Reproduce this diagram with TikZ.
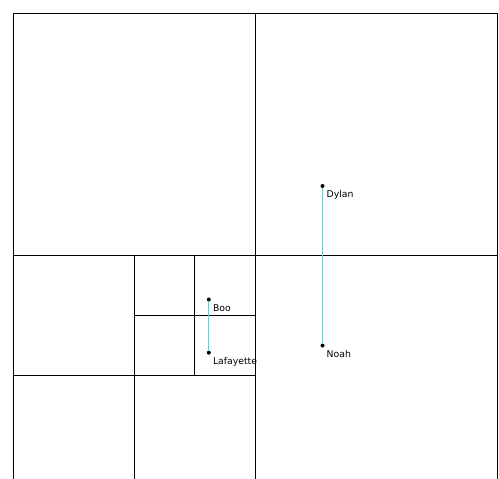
\documentclass[tikz,border=0pt]{standalone}
\usepackage{fontspec}
\setsansfont{DejaVu Sans}
\definecolor{linkcyan}{RGB}{60, 225, 225}
\usetikzlibrary{positioning}

\tikzset{
  cell/.style={draw=black, line width=1pt},
  pt/.style={circle, fill=black, inner sep=0pt, outer sep=0pt, minimum size=4pt},
  lbl/.style={font=\sffamily\fontsize{9.3}{10}\selectfont, inner sep=0pt, anchor=north west},
  link/.style={draw=linkcyan, line width=1pt}
}

\begin{document}
\begin{tikzpicture}[x=1pt, y=-1pt]
  \useasboundingbox (0,0) rectangle (499,479);

  % Quadtree cells
  \begin{scope}
    \clip (0,0) rectangle (499,479);
    \draw[cell] (13,13) rectangle (497,497);
    \draw[cell] (255,13) -- (255,497);
    \draw[cell] (13,255) -- (497,255);
    \draw[cell] (134,255) -- (134,497);
    \draw[cell] (13,375) -- (255,375);
    \draw[cell] (194,255) -- (194,375);
    \draw[cell] (134,315) -- (255,315);
  \end{scope}

  % Points
  \node[pt] (dylan) at (322.5,186) {};
  \node[pt] (noah) at (322.5,345.5) {};
  \node[pt] (boo) at (208.8,299.5) {};
  \node[pt] (lafayette) at (208.8,352.7) {};

  % Links
  \draw[link] (dylan) -- (noah);
  \draw[link] (boo) -- (lafayette);

  % Labels
  \node[lbl] (dylanlbl) at ([xshift=4pt, yshift=-4.6pt]dylan.center) {Dylan};
  \node[lbl] (noahlbl) at ([xshift=4pt, yshift=-4.6pt]noah.center) {Noah};
  \node[lbl] (boolbl) at ([xshift=4pt, yshift=-4.6pt]boo.center) {Boo};
  \node[lbl] (lafayettelbl) at ([xshift=4pt, yshift=-4.6pt]lafayette.center) {Lafayette};
\end{tikzpicture}
\end{document}
